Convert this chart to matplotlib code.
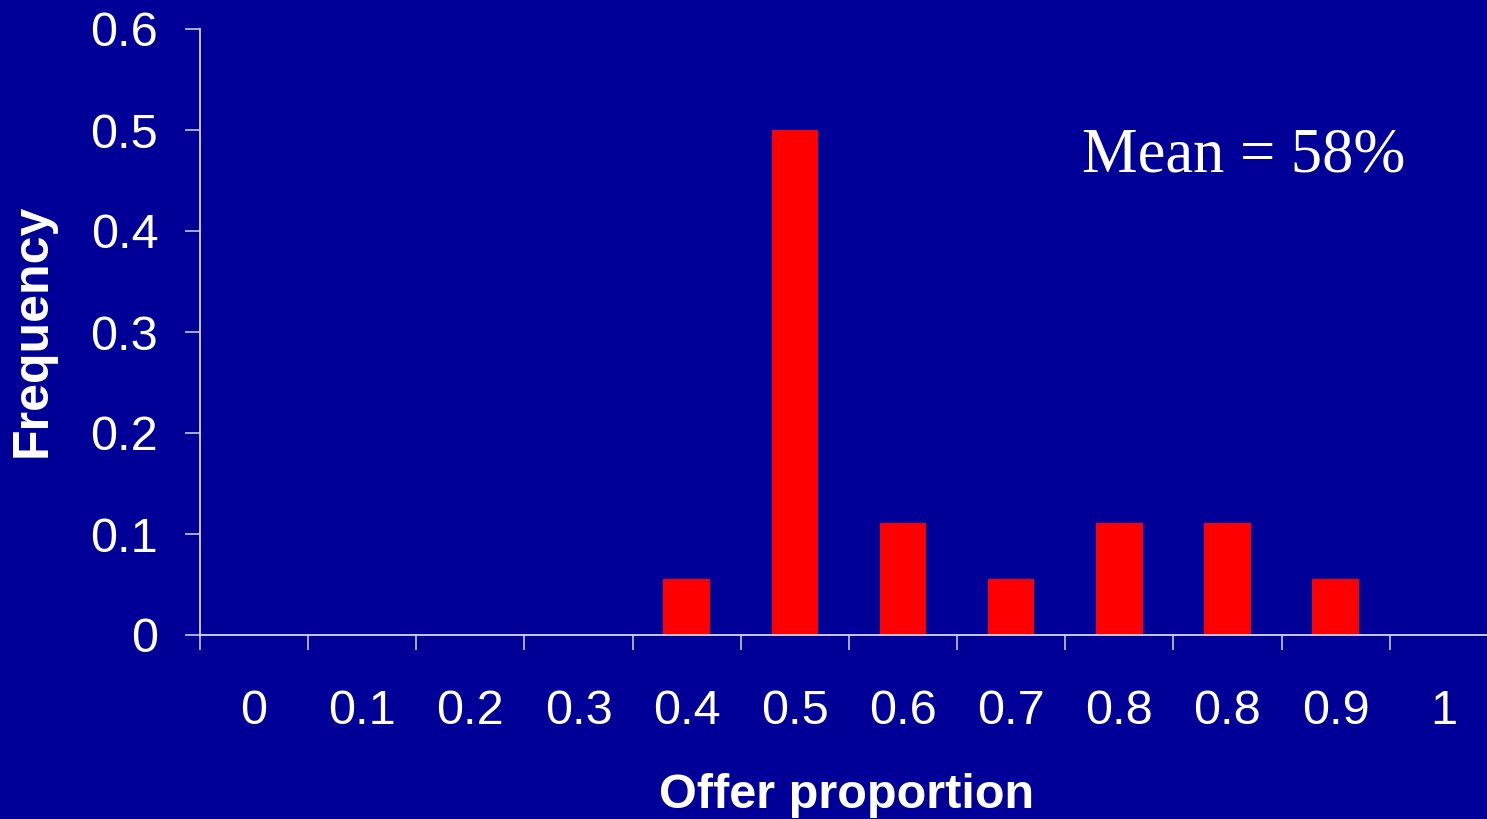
import matplotlib
matplotlib.use("Agg")
import matplotlib.pyplot as plt
import numpy as np

# Offer-proportion categories and observed frequencies (n = 18)
categories = ["0", "0.1", "0.2", "0.3", "0.4", "0.5", "0.6", "0.7", "0.8", "0.8", "0.9", "1"]
frequency = [0, 0, 0, 0, 1/18, 9/18, 2/18, 1/18, 2/18, 2/18, 1/18, 0]
y_ticks = [0, 0.1, 0.2, 0.3, 0.4, 0.5, 0.6]
y_tick_labels = ["0", "0.1", "0.2", "0.3", "0.4", "0.5", "0.6"]
mean_text = "Mean = 58%"

bg = "#000099"
axis_col = "#d8d8e8"

fig = plt.figure(figsize=(14.87, 8.19), dpi=100, facecolor=bg)
ax = fig.add_axes([200/1487, 1 - 635/819, 1 - 200/1487, (635 - 29)/819])
ax.set_facecolor(bg)

x = np.arange(len(categories))
ax.bar(x, frequency, width=0.43, color="#ff0000", zorder=2)

ax.set_xlim(-0.5, 11.4)
ax.set_ylim(0, 0.6)

for s in ["top", "right"]:
    ax.spines[s].set_visible(False)
for s in ["left", "bottom"]:
    ax.spines[s].set_color(axis_col)
    ax.spines[s].set_linewidth(1.3)

ax.set_yticks(y_ticks)
ax.set_yticklabels(y_tick_labels)
ax.tick_params(axis="y", length=11, width=1.1, color=axis_col, pad=19,
               labelsize=35, labelcolor="white")
for t in ax.get_yticklabels():
    t.set_fontfamily("Liberation Sans")

# category labels at bar centres, tick marks between categories
ax.set_xticks(x)
ax.set_xticklabels(categories)
ax.set_xticks(np.arange(-0.5, len(categories) - 1, 1.0), minor=True)
ax.tick_params(axis="x", which="major", length=0, pad=39,
               labelsize=35, labelcolor="white")
ax.tick_params(axis="x", which="minor", length=11, width=1.1, color=axis_col)
for t in ax.get_xticklabels():
    t.set_fontfamily("Liberation Sans")

fig.text(847/1487, 1 - 795/819, "Offer proportion", ha="center", va="center",
         fontsize=35, fontweight="bold", color="white", family="Liberation Sans")
fig.text(33/1487, 1 - 330/819, "Frequency", ha="center", va="center", rotation=90,
         fontsize=36, fontweight="bold", color="white", family="Liberation Sans")
fig.text(1082/1487, 1 - 172/819, mean_text, ha="left", va="baseline",
         fontsize=45, color="white", family="Liberation Serif")

fig.savefig("out.png", dpi=100, facecolor=bg)
